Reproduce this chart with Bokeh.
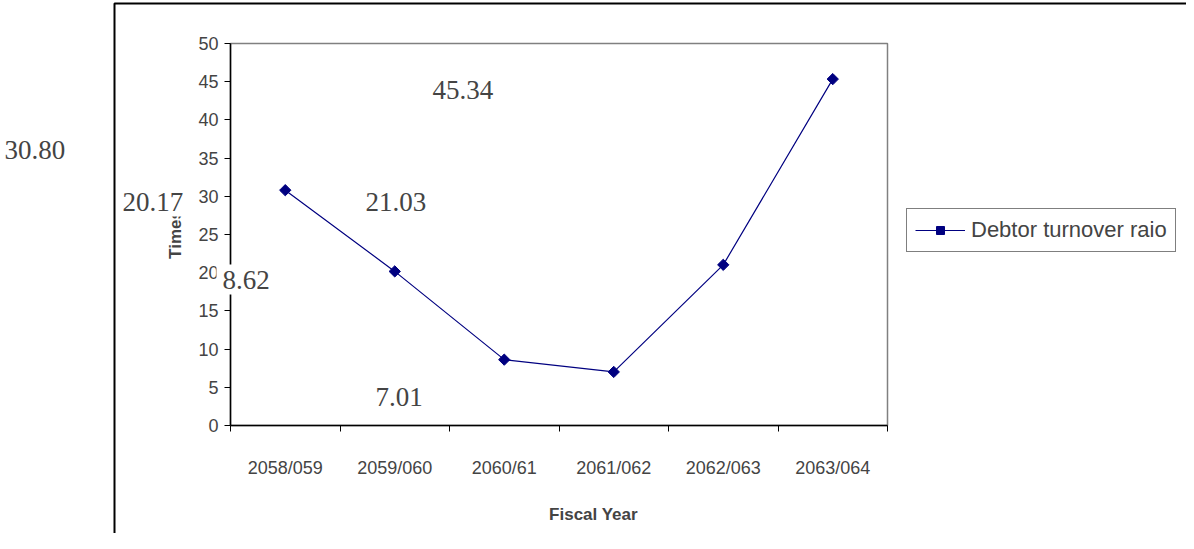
import math
from bokeh.plotting import figure
from bokeh.models import (Range1d, LinearAxis, FixedTicker, Label,
                          BoxAnnotation, Legend, LegendItem)
from bokeh.embed import file_html
from bokeh.resources import INLINE

# data
years = ["2058/059", "2059/060", "2060/61", "2061/062", "2062/063", "2063/064"]
ratio = [30.80, 20.17, 8.62, 7.01, 21.03, 45.34]
ratio_labels = ["30.80", "20.17", "8.62", "7.01", "21.03", "45.34"]
y_ticks = list(range(0, 51, 5))

FONT = "Liberation Sans"
SERIF = "Liberation Serif"
NAVY = "#000080"

x_pos = [i + 0.5 for i in range(len(years))]

# the frame fills the whole canvas; axes are pinned inside it
W, H = 1186, 533
px_x = 657 / 6.0
px_y = 382 / 50.0
x0 = -230 / px_x
x1 = 6 + (W - 887) / px_x
y1 = 50 + 43 / px_y
y0 = -(H - 425) / px_y

p = figure(width=W, height=H, min_border=0,
           x_range=Range1d(x0, x1), y_range=Range1d(y0, y1),
           x_axis_type=None, y_axis_type=None,
           output_backend="svg", toolbar_location=None, tools="")
p.grid.visible = False
p.outline_line_color = None

# outer chart border (only top and left edges fall inside the page)
p.add_layout(BoxAnnotation(left=114, right=W + 20, top=3, bottom=H + 20,
                           left_units="canvas", right_units="canvas",
                           top_units="canvas", bottom_units="canvas",
                           fill_alpha=0, line_color="black", line_alpha=1,
                           line_width=2, level="underlay"))

# plot-area outline
p.add_layout(BoxAnnotation(left=0, right=6, bottom=0, top=50, fill_alpha=0,
                           line_color="#808080", line_alpha=1, line_width=1.5,
                           level="underlay"))

xaxis = LinearAxis(ticker=FixedTicker(ticks=list(range(7))), bounds=(0, 6),
                   fixed_location=0,
                   major_label_overrides={i: "" for i in range(7)},
                   major_tick_in=0, major_tick_out=6, minor_tick_line_color=None,
                   axis_line_color="black", axis_line_width=1.5)
p.add_layout(xaxis, "below")

cat_axis = LinearAxis(ticker=FixedTicker(ticks=x_pos), fixed_location=0,
                      major_label_overrides={x: s for x, s in zip(x_pos, years)},
                      axis_line_color=None, major_tick_line_color=None,
                      minor_tick_line_color=None,
                      major_label_text_font=FONT,
                      major_label_text_font_size="18px",
                      major_label_standoff=26,
                      axis_label="Fiscal Year",
                      axis_label_text_font=FONT,
                      axis_label_text_font_style="bold",
                      axis_label_text_font_size="17px",
                      axis_label_standoff=24)
p.add_layout(cat_axis, "below")

yaxis = LinearAxis(ticker=FixedTicker(ticks=y_ticks), bounds=(0, 50),
                   fixed_location=0, major_tick_in=0, major_tick_out=6,
                   minor_tick_line_color=None, axis_line_color="black",
                   axis_line_width=1.5,
                   major_label_text_font=FONT, major_label_text_font_size="18px",
                   major_label_standoff=6,
                   axis_label="Times", axis_label_text_font=FONT,
                   axis_label_text_font_style="bold",
                   axis_label_text_font_size="17px", axis_label_standoff=10)
p.add_layout(yaxis, "left")

r_line = p.line(x_pos, ratio, color=NAVY, line_width=1.2)
r_pts = p.scatter(x_pos, ratio, marker="square", angle=math.pi / 4,
                  size=8, color=NAVY)

legend = Legend(items=[LegendItem(label="Debtor turnover raio", renderers=[r_line, r_pts])],
                location=(906, 281), border_line_color="black", border_line_width=1.5,
                label_text_font=FONT, label_text_font_size="22px",
                glyph_width=50, padding=8, margin=0, label_standoff=6,
                background_fill_alpha=1)
p.add_layout(legend, "center")

# stray data labels (canvas px, top-left of text)
label_pos = [(4, 140, 0), (116, 186, 6), (216, 264, 6),
             (375, 387, 0), (365, 192, 0), (432, 80, 0)]
for text, (lx, ly, pad) in zip(ratio_labels, label_pos):
    p.add_layout(Label(x=lx, y=ly, x_units="canvas", y_units="canvas", text=text,
                       text_font=SERIF, text_font_size="27px",
                       text_baseline="top",
                       background_fill_color="white" if pad else None,
                       padding=pad))

open("out.html", "w").write(file_html(p, INLINE))
